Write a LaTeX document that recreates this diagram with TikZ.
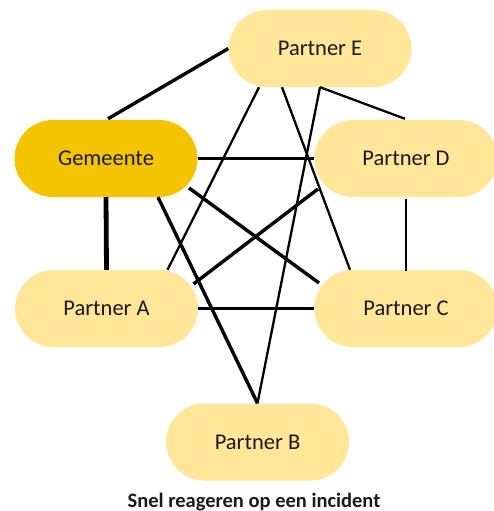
\documentclass[tikz,border=0pt]{standalone}
\usepackage{fontspec}
\setmainfont{Carlito}
\usetikzlibrary{calc}
\definecolor{gemeentegold}{HTML}{F5C400}
\definecolor{partnersand}{HTML}{FFE699}
\definecolor{inktext}{HTML}{1A1A1A}
\begin{document}
\begin{tikzpicture}[x=1pt,y=-1pt,
  party/.style={rectangle, rounded corners=38.5pt, minimum width=183pt,
    minimum height=77pt, inner sep=0pt, fill=partnersand, text=inktext,
    font=\fontsize{22.5}{27}\selectfont},
  lead/.style={party, fill=gemeentegold},
  thinlink/.style={draw=black, line width=2.3pt},
  thicklink/.style={draw=black, line width=3.4pt},
  heavylink/.style={draw=black, line width=4.8pt}]
  \useasboundingbox (0,0) rectangle (494,511);

  % participants
  \node[party] (E) at (320,48.5) {Partner E};
  \node[lead]  (G) at (106,158.5) {Gemeente};
  \node[party] (D) at (406,158.5) {Partner D};
  \node[party] (A) at (106.5,308.5) {Partner A};
  \node[party] (C) at (406,308.5) {Partner C};
  \node[party] (B) at (257.5,442) {Partner B};

  % links from the municipality
  \draw[thicklink] (E.west) -- ($(G.north)+(2,-1)$);
  \draw[thicklink] (G.east) -- (D.west);
  \draw[heavylink] (G.south) -- (A.north);
  \draw[thicklink] ($(G.south)+(52,0)$) -- (B.north);
  \draw[thicklink] ($(G.center)+(83,29.5)$) -- ($(C.center)+(-87,-25.5)$);

  % links between partners
  \draw[thinlink] (E.south) -- ($(D.north)+(-1,-1)$);
  \draw[thinlink] ($(E.south)+(-61,0)$) -- ($(A.north)+(61,0)$);
  \draw[thinlink] ($(E.south)+(-38,0)$) -- ($(C.north)+(-56,0)$);
  \draw[thinlink] (E.south) -- (B.north);
  \draw[thicklink] ($(D.center)+(-88,30.5)$) -- ($(A.center)+(87,-24.5)$);
  \draw[thinlink] ($(D.south)+(0,2)$) -- ($(C.north)+(0,1)$);
  \draw[thinlink] (A.east) -- (C.west);

  % caption
  \node[anchor=base, font=\bfseries\fontsize{20.5}{24}\selectfont, text=inktext]
    (caption) at (254,507) {Snel reageren op een incident};
\end{tikzpicture}
\end{document}
